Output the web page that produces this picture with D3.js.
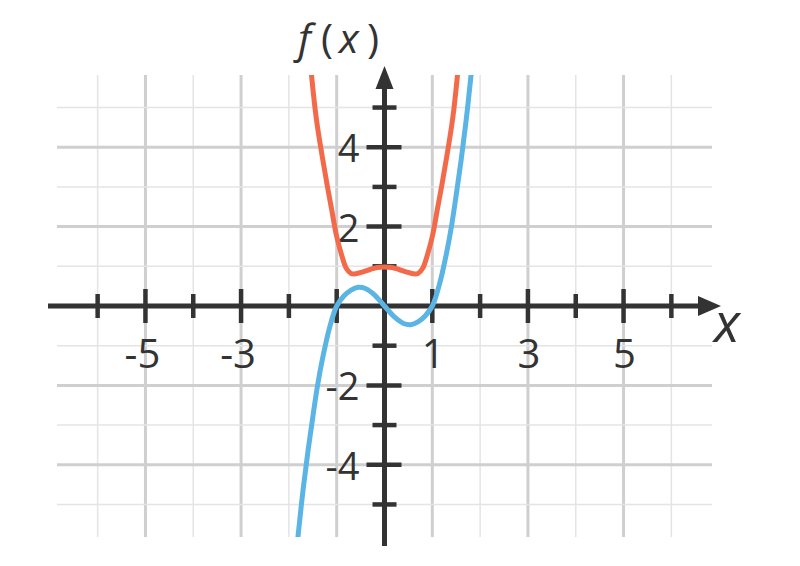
<!DOCTYPE html>
<html>
<head>
<meta charset="utf-8">
<script src="https://cdn.jsdelivr.net/npm/d3@7"></script>
<style>
  html, body { margin: 0; padding: 0; background: #fff; }
  svg { display: block; }
  text { font-family: "Open Sans", "Lato", sans-serif; fill: #333; }
</style>
</head>
<body>
<svg id="chart" width="800" height="566"></svg>
<script>
// ---- data ----
const xTicks = [-6, -5, -4, -3, -2, -1, 1, 2, 3, 4, 5, 6];
const yTicks = [-5, -4, -3, -2, -1, 1, 2, 3, 4, 5];
const xLabels = [-5, -3, 1, 3, 5];
const yLabels = [4, 2, -2, -4];
const xMajor = [-5, -3, -1, 1, 3, 5];
const yMajor = [-4, -2, 2, 4];

// blue curve (x, f(x))
const blueX = [-1.85, -1.8, -1.7, -1.6, -1.5, -1.4, -1.3, -1.15, -1.0, -0.85, -0.7, -0.55, -0.4, -0.2, 0,
               0.2, 0.4, 0.55, 0.7, 0.85, 1.0, 1.15, 1.3, 1.4, 1.5, 1.6, 1.7, 1.8, 1.85];
const blueY = [-6.3, -5.7, -4.6, -3.65, -2.8, -2.0, -1.35, -0.55, 0.0, 0.25, 0.40, 0.47, 0.44, 0.27, 0,
               -0.27, -0.44, -0.47, -0.40, -0.25, 0.0, 0.55, 1.35, 2.0, 2.8, 3.65, 4.6, 5.7, 6.3];

// orange curve (x, g(x))
const orangeX = [-1.6, -1.55, -1.5, -1.45, -1.4, -1.3, -1.2, -1.1, -1.05, -1.0, -0.9, -0.8, -0.7, -0.6, -0.45, -0.3, -0.15, 0,
                 0.15, 0.3, 0.45, 0.6, 0.7, 0.8, 0.9, 1.0, 1.05, 1.1, 1.2, 1.3, 1.4, 1.45, 1.5, 1.55, 1.6];
const orangeY = [6.7, 6.1, 5.5, 4.95, 4.5, 3.75, 3.05, 2.4, 2.05, 1.75, 1.3, 0.95, 0.82, 0.81, 0.86, 0.92, 0.97, 0.98,
                 0.97, 0.92, 0.86, 0.81, 0.82, 0.95, 1.3, 1.75, 2.05, 2.4, 3.05, 3.75, 4.5, 4.95, 5.5, 6.1, 6.7];

const blueColor = "#5ab4e4";
const orangeColor = "#f36a4b";
const axisColor = "#333333";

// ---- drawing ----
const svg = d3.select("#chart");
const x = d3.scaleLinear().domain([-6.85, 6.85]).range([57, 712]);
const y = d3.scaleLinear().domain([-5.82, 5.82]).range([537, 75]);
const x0 = x(0), y0 = y(0);

// grid
const grid = svg.append("g");
grid.selectAll("line.v").data(d3.range(-6, 7).filter(d => d !== 0)).join("line")
  .attr("x1", d => x(d)).attr("x2", d => x(d))
  .attr("y1", y(5.82)).attr("y2", y(-5.82))
  .attr("stroke", d => xMajor.includes(d) ? "#cfcfcf" : "#e4e4e4")
  .attr("stroke-width", d => xMajor.includes(d) ? 3 : 1.5);
grid.selectAll("line.h").data(d3.range(-5, 6).filter(d => d !== 0)).join("line")
  .attr("y1", d => y(d)).attr("y2", d => y(d))
  .attr("x1", x(-6.85)).attr("x2", x(6.85))
  .attr("stroke", d => yMajor.includes(d) ? "#cfcfcf" : "#e4e4e4")
  .attr("stroke-width", d => yMajor.includes(d) ? 3 : 1.5);

// labels
svg.selectAll("text.xl").data(xLabels).join("text")
  .attr("x", d => x(d) - (d < 0 ? 3 : -1)).attr("y", y0 + 62)
  .attr("text-anchor", "middle")
  .attr("font-size", 40).attr("font-weight", 400)
  .text(d => String(d));
svg.selectAll("text.yl").data(yLabels).join("text")
  .attr("x", x0 - 25).attr("y", d => y(d) + 15)
  .attr("text-anchor", "end")
  .attr("font-size", 38).attr("font-weight", 400)
  .text(d => String(d));

// axes
const ax = svg.append("g").attr("stroke", axisColor).attr("stroke-linecap", "butt");
ax.append("line").attr("x1", 48).attr("x2", 702).attr("y1", y0).attr("y2", y0).attr("stroke-width", 5);
ax.append("line").attr("x1", x0).attr("x2", x0).attr("y1", 546).attr("y2", 84).attr("stroke-width", 5);
svg.append("path").attr("fill", axisColor)
  .attr("d", `M${721},${y0} L${698},${y0 - 10} L${698},${y0 + 10} Z`);
svg.append("path").attr("fill", axisColor)
  .attr("d", `M${x0},${66} L${x0 - 9},${89} L${x0 + 9},${89} Z`);

ax.selectAll("line.xt").data(xTicks).join("line")
  .attr("x1", d => x(d)).attr("x2", d => x(d))
  .attr("y1", d => y0 - (xMajor.includes(d) ? 17 : 12))
  .attr("y2", d => y0 + (xMajor.includes(d) ? 17 : 12))
  .attr("stroke-width", 4.5);
ax.selectAll("line.yt").data(yTicks).join("line")
  .attr("y1", d => y(d)).attr("y2", d => y(d))
  .attr("x1", d => x0 - (yMajor.includes(d) ? 18 : 12))
  .attr("x2", d => x0 + (yMajor.includes(d) ? 17 : 12))
  .attr("stroke-width", 4.5);

// clip to grid area
svg.append("clipPath").attr("id", "plotclip").append("rect")
  .attr("x", x(-6.85)).attr("y", y(5.82))
  .attr("width", x(6.85) - x(-6.85)).attr("height", y(-5.82) - y(5.82));

const line = d3.line().x(d => x(d[0])).y(d => y(d[1])).curve(d3.curveCatmullRom.alpha(0.5));
const curves = svg.append("g").attr("clip-path", "url(#plotclip)");
curves.append("path").datum(blueX.map((v, i) => [v, blueY[i]]))
  .attr("d", line).attr("fill", "none").attr("stroke", blueColor).attr("stroke-width", 5);
curves.append("path").datum(orangeX.map((v, i) => [v, orangeY[i]]))
  .attr("d", line).attr("fill", "none").attr("stroke", orangeColor).attr("stroke-width", 5);

// axis titles
const ft = svg.append("text").attr("y", 53).attr("font-size", 41).attr("font-weight", 400);
ft.append("tspan").attr("x", 298).attr("font-style", "italic").text("f");
ft.append("tspan").attr("x", 321).text("(");
ft.append("tspan").attr("x", 339).attr("font-style", "italic").text("x");
ft.append("tspan").attr("x", 367).text(")");
svg.append("text").attr("x", 714).attr("y", 342).attr("font-size", 54)
  .attr("font-weight", 400).attr("font-style", "italic").text("x");
</script>
</body>
</html>
